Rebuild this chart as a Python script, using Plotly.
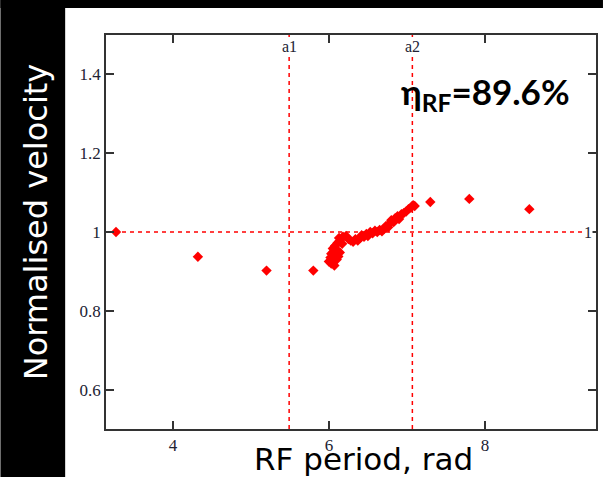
import plotly.graph_objects as go

# ---- data ----
rf_period = [3.27, 4.32, 5.20, 5.80, 7.30, 7.80, 8.57,
             6.00, 6.02, 6.05, 6.03, 6.06, 6.08, 6.10, 6.12, 6.05, 6.08,
             6.10, 6.14, 6.11, 6.14, 6.17, 6.13, 6.18, 6.22, 6.25, 6.28,
             6.31, 6.34, 6.37, 6.40, 6.42, 6.45, 6.48, 6.50, 6.53, 6.56,
             6.59, 6.62, 6.65, 6.68, 6.71, 6.73, 6.76, 6.78, 6.80, 6.83,
             6.85, 6.88, 6.90, 6.93, 6.96, 6.99, 7.02, 7.05, 7.08, 7.10,
             6.07, 6.03]
norm_velocity = [1.000, 0.937, 0.902, 0.902, 1.076, 1.084, 1.058,
                 0.925, 0.935, 0.922, 0.945, 0.950, 0.940, 0.930, 0.938, 0.958, 0.965,
                 0.955, 0.948, 0.972, 0.978, 0.970, 0.985, 0.988, 0.990, 0.982, 0.978,
                 0.975, 0.982, 0.978, 0.985, 0.992, 0.988, 0.995, 0.990, 1.000, 0.997,
                 1.003, 1.000, 1.005, 1.002, 1.008, 1.015, 1.012, 1.022, 1.030, 1.025,
                 1.035, 1.040, 1.033, 1.045, 1.048, 1.052, 1.058, 1.062, 1.068, 1.066,
                 0.915, 0.920]

x_tickvals = [4, 6, 8]
x_ticktext = ["4", "6", "8"]
y_tickvals = [0.6, 0.8, 1.0, 1.2, 1.4]
y_ticktext = ["0.6", "0.8", "1", "1.2", "1.4"]

a1 = 5.49
a2 = 7.07
ref_level = 1.0
x_range = [3.1416, 9.4248]
y_range = [0.5, 1.5]
efficiency_label = "η<sub>RF</sub>=89.6%"

# ---- figure ----
W, H = 605, 477
ML, MR, MT, MB = 106, 7, 35, 48
PW, PH = W - ML - MR, H - MT - MB

def px_x(p):
    return (p - ML) / PW

def px_y(p):
    return (H - MB - p) / PH

fig = go.Figure()
fig.add_trace(go.Scatter(
    x=rf_period, y=norm_velocity, mode="markers",
    marker=dict(symbol="diamond", size=8, color="#ff0000", line=dict(width=0)),
    showlegend=False, cliponaxis=False))

dash = "4px,4px"
for xv in (a1, a2):
    fig.add_shape(type="line", xref="x", yref="paper", x0=xv, x1=xv, y0=0, y1=1,
                  line=dict(color="#ff0000", width=1.5, dash=dash), layer="below")
fig.add_shape(type="line", xref="paper", yref="y", x0=0, x1=1, y0=ref_level, y1=ref_level,
              line=dict(color="#ff0000", width=1.5, dash=dash), layer="below")

# black frame strips
fig.add_shape(type="rect", xref="paper", yref="paper",
              x0=px_x(0), x1=px_x(65), y0=px_y(H), y1=px_y(0),
              fillcolor="black", line=dict(width=0), layer="below")
fig.add_shape(type="rect", xref="paper", yref="paper",
              x0=px_x(0), x1=px_x(W), y0=px_y(8), y1=px_y(0),
              fillcolor="black", line=dict(width=0), layer="below")

serif = dict(family="Liberation Serif", size=16, color="#222233")
for xv, lab in ((a1, "a1"), (a2, "a2")):
    fig.add_annotation(x=xv, y=px_y(47), xref="x", yref="paper", text=lab,
                       showarrow=False, font=serif, bgcolor="white",
                       xanchor="center", yanchor="middle", borderpad=0)
fig.add_annotation(x=px_x(590), y=ref_level, xref="paper", yref="y", text="1",
                   showarrow=False, font=serif, bgcolor="white",
                   xanchor="center", yanchor="middle", borderpad=0)

fig.add_annotation(x=px_x(487), y=px_y(93), xref="paper", yref="paper",
                   text="<b>" + efficiency_label + "</b>", showarrow=False,
                   font=dict(family="Lato", size=35, color="black"),
                   xanchor="center", yanchor="middle")

fig.add_annotation(x=px_x(36), y=px_y(222), xref="paper", yref="paper",
                   text="Normalised velocity", textangle=-90, showarrow=False,
                   font=dict(family="DejaVu Sans", size=32, color="white"),
                   xanchor="center", yanchor="middle")
fig.add_annotation(x=px_x(365), y=px_y(459), xref="paper", yref="paper",
                   text="RF period, rad", showarrow=False,
                   font=dict(family="DejaVu Sans", size=31, color="black"),
                   xanchor="center", yanchor="middle")

axis_common = dict(showline=True, linecolor="#333333", linewidth=1.5, mirror="ticks",
                   ticks="inside", ticklen=8, tickwidth=1.5, tickcolor="#333333",
                   showgrid=False, zeroline=False,
                   tickfont=dict(family="Liberation Serif", size=17, color="#222233"))

fig.update_xaxes(range=x_range, tickvals=x_tickvals, ticktext=x_ticktext, **axis_common)
fig.update_yaxes(range=y_range, tickvals=y_tickvals, ticktext=y_ticktext,
                 ticklabelstandoff=0, **axis_common)

fig.update_layout(width=W, height=H, margin=dict(l=ML, r=MR, t=MT, b=MB),
                  paper_bgcolor="white", plot_bgcolor="white")

fig.write_html("out.html", config={"displayModeBar": False},
               post_script="document.body.style.margin='0';document.body.style.overflow='hidden';")
